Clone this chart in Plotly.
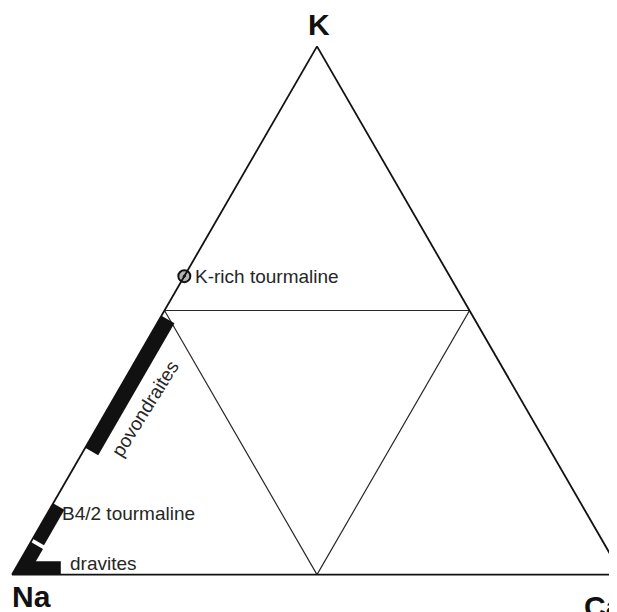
import plotly.graph_objects as go

# ---------------- data (ternary fractions: a = K, b = Na, c = Ca) ----------------
vertex_names = ["K", "Na", "Ca"]

# inner triangle joining the mid-points of the three joins (closed path)
inner_a = [0.5, 0.5, 0.0, 0.5]
inner_b = [0.5, 0.0, 0.5, 0.5]
inner_c = [0.0, 0.5, 0.5, 0.0]

# compositional ranges along the Na-K join (Ca = 0), expressed as K fraction
povondraite_k = [0.24, 0.49]
b42_k = [0.068, 0.135]
dravite_k = [0.0, 0.062]
# dravite range along the Na-Ca join (K = 0), expressed as Ca fraction
dravite_ca = [0.0, 0.08]

# single analysis: K-rich tourmaline (on Na-K join)
krich_k = [0.565]

field_labels = ["povondraites", "B4/2 tourmaline", "dravites", "K-rich tourmaline"]

# ---------------- frame geometry (window pixels) used only for label placement ----------------
W_FIG, H_FIG = 617, 612
PAGE_OFF = 8.0                  # default page margin of the html body
NA_X = 12.0                     # Na vertex x in the window
TRI_W = 610.0                   # triangle width
TRI_H = TRI_W * 3 ** 0.5 / 2    # triangle height
Y_CENTER = 310.5                # vertical centre of triangle in the window
Y_BASE = Y_CENTER + TRI_H / 2


def px(a, c):
    return NA_X + TRI_W * (c + a / 2.0), Y_BASE - TRI_H * a


def paper(x, y):
    return (x - PAGE_OFF) / W_FIG, 1 - (y - PAGE_OFF) / H_FIG


BAR = "#111111"
TXT = "#262626"

fig = go.Figure()

# inner triangle
fig.add_trace(go.Scatterternary(
    a=inner_a, b=inner_b, c=inner_c, mode="lines",
    line=dict(color="#2a2a2a", width=1.2), cliponaxis=False, hoverinfo="skip"))

# bars sit on the joins; the ternary frame keeps only their inner half
# povondraite bar
fig.add_trace(go.Scatterternary(
    a=povondraite_k, b=[1 - k for k in povondraite_k], c=[0, 0], mode="lines",
    line=dict(color=BAR, width=30), cliponaxis=False, hoverinfo="skip"))

# B4/2 tourmaline bar
fig.add_trace(go.Scatterternary(
    a=b42_k, b=[1 - k for k in b42_k], c=[0, 0], mode="lines",
    line=dict(color=BAR, width=26), cliponaxis=False, hoverinfo="skip"))

# dravite bars (Na-K join and Na-Ca join)
fig.add_trace(go.Scatterternary(
    a=dravite_k, b=[1 - k for k in dravite_k], c=[0, 0], mode="lines",
    line=dict(color=BAR, width=28), cliponaxis=False, hoverinfo="skip"))
fig.add_trace(go.Scatterternary(
    a=[0, 0], b=[1 - c for c in dravite_ca], c=dravite_ca,
    mode="lines", line=dict(color=BAR, width=27), cliponaxis=False, hoverinfo="skip"))

# K-rich tourmaline point
fig.add_trace(go.Scatterternary(
    a=krich_k, b=[1 - k for k in krich_k], c=[0], mode="markers",
    marker=dict(symbol="circle-dot", size=12, color="#b5b5b5", line=dict(width=2, color="#111111")),
    cliponaxis=False, hoverinfo="skip"))

axis_style = dict(showgrid=False, showticklabels=False, ticks="", showline=True,
                  linecolor="#111111", linewidth=1.8, title=dict(text=""))

annotations = []
font_lab = dict(family="Liberation Sans, Arial, sans-serif", size=19, color=TXT)
font_vtx = dict(family="Liberation Sans, Arial, sans-serif", size=30, color="#111111")

# vertex labels
kx, ky = px(1, 0)
x, y = paper(kx + 2, 24)
annotations.append(dict(x=x, y=y, text="<b>%s</b>" % vertex_names[0], showarrow=False,
                        xanchor="center", yanchor="middle", font=font_vtx))
nx, ny = px(0, 0)
x, y = paper(nx - 2, 596)
annotations.append(dict(x=x, y=y, text="<b>%s</b>" % vertex_names[1], showarrow=False,
                        xanchor="left", yanchor="middle", font=font_vtx))
x, y = paper(582, 606)
annotations.append(dict(x=x, y=y, text="<b>%s</b>" % vertex_names[2], showarrow=False,
                        xanchor="left", yanchor="middle", font=font_vtx))

# field labels
mx, my = px(sum(povondraite_k) / 2, 0)
x, y = paper(mx + 22, my + 27)
annotations.append(dict(x=x, y=y, text=field_labels[0], showarrow=False, textangle=-58,
                        xanchor="center", yanchor="middle", font=font_lab))
bx, by = px(b42_k[1], 0)
x, y = paper(bx + 7, by + 10)
annotations.append(dict(x=x, y=y, text=field_labels[1], showarrow=False,
                        xanchor="left", yanchor="middle", font=font_lab))
x, y = paper(nx + 56, ny - 11)
annotations.append(dict(x=x, y=y, text=field_labels[2], showarrow=False,
                        xanchor="left", yanchor="middle", font=font_lab))
kx2, ky2 = px(krich_k[0], 0)
x, y = paper(kx2 + 9, ky2)
annotations.append(dict(x=x, y=y, text=field_labels[3], showarrow=False,
                        xanchor="left", yanchor="middle", font=font_lab))

# ternary domain in paper units (accounting for the page margin)
dx0 = (NA_X - PAGE_OFF) / W_FIG
dx1 = (NA_X - PAGE_OFF + TRI_W) / W_FIG
yc = 1 - (Y_CENTER - PAGE_OFF) / H_FIG
fig.update_layout(
    width=W_FIG, height=H_FIG,
    margin=dict(l=0, r=0, t=0, b=0),
    paper_bgcolor="white", plot_bgcolor="white",
    showlegend=False,
    ternary=dict(
        domain=dict(x=[dx0, dx1], y=[yc - 0.46, yc + 0.46]),
        bgcolor="white", sum=1,
        aaxis=axis_style, baxis=axis_style, caxis=axis_style,
    ),
    annotations=annotations,
)

fig.write_html("out.html")
